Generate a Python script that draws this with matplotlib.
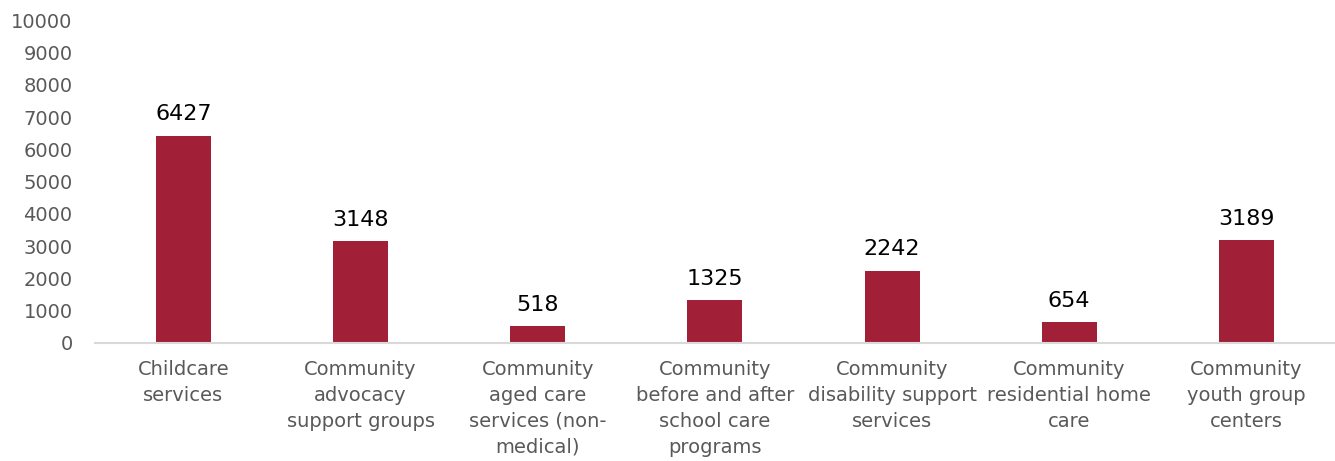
import matplotlib.pyplot as plt

categories = [
    "Childcare\nservices",
    "Community\nadvocacy\nsupport groups",
    "Community\naged care\nservices (non-\nmedical)",
    "Community\nbefore and after\nschool care\nprograms",
    "Community\ndisability support\nservices",
    "Community\nresidential home\ncare",
    "Community\nyouth group\ncenters",
]
counts = [6427, 3148, 518, 1325, 2242, 654, 3189]
yticks = list(range(0, 10001, 1000))

plt.rcParams['font.family'] = ['DejaVu Sans']

fig = plt.figure(figsize=(13.35, 4.61), dpi=100)
ax = fig.add_axes([0.071, 0.256, 0.929, 0.70])

x = range(len(categories))
bars = ax.bar(x, counts, width=0.31, color='#A12037', zorder=2)
for b, v in zip(bars, counts):
    ax.text(b.get_x() + b.get_width() / 2, v + 350, str(v),
            ha='center', va='bottom', fontsize=16, color='black')

ax.set_xlim(-0.5, len(categories) - 0.5)
ax.set_ylim(0, 10000)
ax.set_yticks(yticks)
ax.set_yticklabels([str(t) for t in yticks], fontsize=14, color='#595959')
ax.set_xticks(list(x))
ax.set_xticklabels(categories, fontsize=14, color='#595959', linespacing=1.47)
ax.tick_params(axis='both', length=0)
ax.tick_params(axis='y', pad=16)
ax.tick_params(axis='x', pad=12)

for side in ['top', 'right', 'left']:
    ax.spines[side].set_visible(False)
ax.spines['bottom'].set_color('#D9D9D9')
ax.spines['bottom'].set_linewidth(1.5)

fig.savefig('out.png', dpi=100)
